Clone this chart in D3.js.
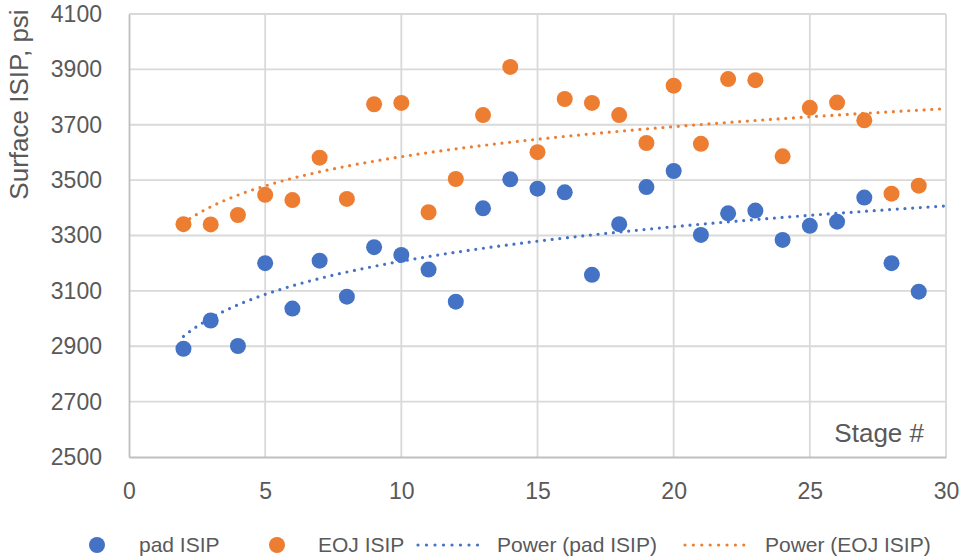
<!DOCTYPE html>
<html>
<head>
<meta charset="utf-8">
<script src="https://cdn.jsdelivr.net/npm/d3@7"></script>
<style>
  html, body { margin: 0; padding: 0; background: #fff; }
  svg { display: block; font-family: "Liberation Sans", Arial, sans-serif; }
</style>
</head>
<body>
<svg id="chart" width="965" height="559"></svg>
<script>
// Stage numbers and shut-in pressures (psi)
const stages = [2,3,4,5,6,7,8,9,10,11,12,13,14,15,16,17,18,19,20,21,22,23,24,25,26,27,28,29];
const padISIP = [2891,2993,2901,3200,3036,3209,3079,3258,3230,3177,3061,3398,3503,3469,3456,3158,3341,3475,3533,3302,3380,3390,3284,3335,3350,3437,3200,3097];
const eojISIP = [3341,3340,3374,3447,3428,3581,3432,3774,3779,3384,3504,3735,3909,3601,3793,3779,3735,3634,3841,3631,3865,3861,3586,3761,3780,3716,3451,3480];
const xTicks = [0,5,10,15,20,25,30];
const yTicks = [2500,2700,2900,3100,3300,3500,3700,3900,4100];
const legendLabels = ["pad ISIP","EOJ ISIP","Power (pad ISIP)","Power (EOJ ISIP)"];

const BLUE = "#4472C4", ORANGE = "#ED7D31", TEXT = "#595959";

const svg = d3.select("#chart");
const x = d3.scaleLinear().domain([0, 30]).range([129, 946]);
const y = d3.scaleLinear().domain([2500, 4100]).range([457, 14]);

// Gridlines
const grid = svg.append("g");
grid.selectAll("line.h").data(yTicks.slice(1)).join("line")
  .attr("x1", x(0)).attr("x2", x(30))
  .attr("y1", d => y(d)).attr("y2", d => y(d))
  .attr("stroke", "#D9D9D9").attr("stroke-width", 1.8);
grid.selectAll("line.v").data(xTicks.slice(1)).join("line")
  .attr("x1", d => x(d)).attr("x2", d => x(d))
  .attr("y1", y(2500)).attr("y2", y(4100))
  .attr("stroke", "#D9D9D9").attr("stroke-width", 1.8);

// Axes
const yAxis = d3.axisLeft(y).tickValues(yTicks).tickFormat(d3.format("d")).tickSize(0).tickPadding(27);
const xAxis = d3.axisBottom(x).tickValues(xTicks).tickFormat(d3.format("d")).tickSize(0).tickPadding(26);
const gy = svg.append("g").attr("transform", `translate(${x(0)},0)`).call(yAxis);
const gx = svg.append("g").attr("transform", `translate(0,${y(2500)})`).call(xAxis);
[gx, gy].forEach(g => {
  g.select(".domain").attr("stroke", "#BFBFBF").attr("stroke-width", 1.8);
  g.selectAll("text").attr("fill", TEXT).attr("font-size", 23)
    .attr("font-family", "Liberation Sans, Arial, sans-serif");
});
gx.selectAll("text").attr("dy", "0.68em");

// Axis titles
svg.append("text")
  .attr("transform", `translate(27.5,104.5) rotate(-90)`)
  .attr("text-anchor", "middle").attr("fill", TEXT).attr("font-size", 26)
  .text("Surface ISIP, psi");
svg.append("text")
  .attr("x", 924).attr("y", 442).attr("text-anchor", "end")
  .attr("fill", TEXT).attr("font-size", 26)
  .text("Stage #");

// Power-law least-squares fit in log-log space
function powerFit(xs, ys) {
  const lx = xs.map(Math.log), ly = ys.map(Math.log);
  const mx = d3.mean(lx), my = d3.mean(ly);
  const b = d3.sum(lx, (v, i) => (v - mx) * (ly[i] - my)) / d3.sum(lx, v => (v - mx) ** 2);
  const a = Math.exp(my - b * mx);
  return t => a * Math.pow(t, b);
}
const fitPad = powerFit(stages, padISIP);
const fitEoj = powerFit(stages, eojISIP);
const curveX = d3.range(2, 30.001, 0.25);
const line = d3.line().x(d => x(d[0])).y(d => y(d[1]));

[[fitPad, BLUE], [fitEoj, ORANGE]].forEach(([f, c]) => {
  svg.append("path")
    .attr("d", line(curveX.map(t => [t, f(t)])))
    .attr("fill", "none").attr("stroke", c).attr("stroke-width", 3.2)
    .attr("stroke-linecap", "round").attr("stroke-dasharray", "0 7.7");
});

// Markers
svg.append("g").selectAll("circle").data(stages).join("circle")
  .attr("cx", d => x(d)).attr("cy", (d, i) => y(padISIP[i])).attr("r", 8)
  .attr("fill", BLUE);
svg.append("g").selectAll("circle").data(stages).join("circle")
  .attr("cx", d => x(d)).attr("cy", (d, i) => y(eojISIP[i])).attr("r", 8)
  .attr("fill", ORANGE);

// Legend
const ly0 = 545;
const leg = svg.append("g").attr("font-size", 21).attr("fill", TEXT);
leg.append("circle").attr("cx", 97).attr("cy", ly0).attr("r", 8).attr("fill", BLUE);
leg.append("text").attr("x", 139).attr("y", ly0).attr("dy", "0.35em").text(legendLabels[0]);
leg.append("circle").attr("cx", 277).attr("cy", ly0).attr("r", 8).attr("fill", ORANGE);
leg.append("text").attr("x", 318).attr("y", ly0).attr("dy", "0.35em").text(legendLabels[1]);
leg.append("line").attr("x1", 418).attr("x2", 486).attr("y1", ly0).attr("y2", ly0)
  .attr("stroke", BLUE).attr("stroke-width", 3.2).attr("stroke-linecap", "round")
  .attr("stroke-dasharray", "0 8.5");
leg.append("text").attr("x", 497).attr("y", ly0).attr("dy", "0.35em").text(legendLabels[2]);
leg.append("line").attr("x1", 685).attr("x2", 752).attr("y1", ly0).attr("y2", ly0)
  .attr("stroke", ORANGE).attr("stroke-width", 3.2).attr("stroke-linecap", "round")
  .attr("stroke-dasharray", "0 8.4");
leg.append("text").attr("x", 765).attr("y", ly0).attr("dy", "0.35em").text(legendLabels[3]);
</script>
</body>
</html>
